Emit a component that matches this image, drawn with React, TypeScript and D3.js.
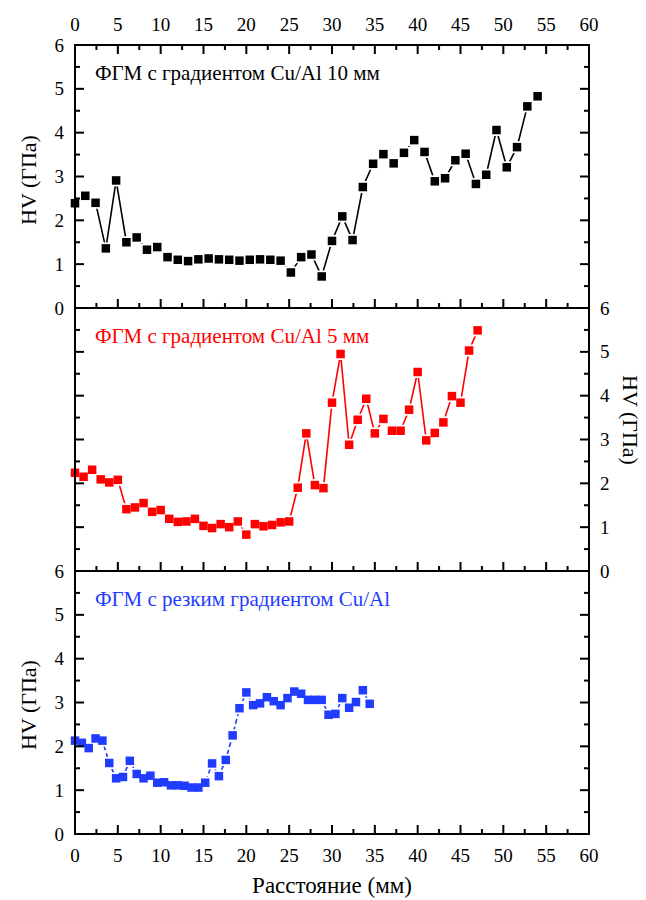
import React from "react";
import * as d3 from "d3";

const xTickLabels = [0, 5, 10, 15, 20, 25, 30, 35, 40, 45, 50, 55, 60];
const yTickLabels = [0, 1, 2, 3, 4, 5, 6];

const blackX = [0, 1.2, 2.4, 3.6, 4.8, 6, 7.2, 8.4, 9.6, 10.8, 12, 13.2, 14.4, 15.6, 16.8, 18, 19.2, 20.4, 21.6, 22.8, 24, 25.2, 26.4, 27.6, 28.8, 30, 31.2, 32.4, 33.6, 34.8, 36, 37.2, 38.4, 39.6, 40.8, 42, 43.2, 44.4, 45.6, 46.8, 48, 49.2, 50.4, 51.6, 52.8, 54];
const blackY = [2.39, 2.56, 2.40, 1.36, 2.91, 1.50, 1.61, 1.33, 1.39, 1.16, 1.10, 1.07, 1.11, 1.13, 1.11, 1.10, 1.08, 1.10, 1.11, 1.10, 1.08, 0.81, 1.16, 1.22, 0.72, 1.53, 2.09, 1.55, 2.76, 3.29, 3.51, 3.30, 3.54, 3.83, 3.56, 2.89, 2.96, 3.37, 3.52, 2.83, 3.04, 4.06, 3.21, 3.67, 4.60, 4.83];

const redX = [0, 1, 2, 3, 4, 5, 6, 7, 8, 9, 10, 11, 12, 13, 14, 15, 16, 17, 18, 19, 20, 21, 22, 23, 24, 25, 26, 27, 28, 29, 30, 31, 32, 33, 34, 35, 36, 37, 38, 39, 40, 41, 42, 43, 44, 45, 46, 47];
const redY = [2.24, 2.15, 2.31, 2.09, 2.02, 2.08, 1.41, 1.45, 1.55, 1.35, 1.39, 1.19, 1.12, 1.13, 1.19, 1.03, 0.98, 1.07, 1.00, 1.13, 0.83, 1.07, 1.02, 1.05, 1.11, 1.13, 1.90, 3.14, 1.96, 1.89, 3.84, 4.95, 2.88, 3.45, 3.93, 3.14, 3.47, 3.20, 3.20, 3.68, 4.54, 2.98, 3.15, 3.39, 3.99, 3.84, 5.03, 5.49];

const blueX = [0, 0.8, 1.6, 2.4, 3.2, 4, 4.8, 5.6, 6.4, 7.2, 8, 8.8, 9.6, 10.4, 11.2, 12, 12.8, 13.6, 14.4, 15.2, 16, 16.8, 17.6, 18.4, 19.2, 20, 20.8, 21.6, 22.4, 23.2, 24, 24.8, 25.6, 26.4, 27.2, 28, 28.8, 29.6, 30.4, 31.2, 32, 32.8, 33.6, 34.4];
const blueY = [2.13, 2.08, 1.96, 2.18, 2.13, 1.62, 1.27, 1.30, 1.67, 1.37, 1.27, 1.33, 1.17, 1.18, 1.11, 1.11, 1.10, 1.06, 1.06, 1.17, 1.61, 1.32, 1.69, 2.25, 2.87, 3.23, 2.94, 2.98, 3.12, 3.03, 2.94, 3.10, 3.25, 3.20, 3.06, 3.06, 3.06, 2.72, 2.74, 3.10, 2.88, 3.01, 3.28, 2.97];

const titles = ["ФГМ с градиентом Cu/Al 10 мм", "ФГМ с градиентом Cu/Al 5 мм", "ФГМ с резким градиентом Cu/Al"];
const yTitle = "HV (ГПа)";
const xTitle = "Расстояние (мм)";

const FONT = '"Liberation Serif", "Times New Roman", serif';
const L = 75, R = 589, PH = 263;
const tops = [45, 308, 571];
const BLUE = "#1f3cff";

const x = d3.scaleLinear().domain([0, 60]).range([L, R]);

type PanelProps = {
  top: number; xs: number[]; ys: number[]; color: string; dashed?: boolean; title: string;
  leftLabels?: boolean; rightLabels?: boolean; topTicks?: boolean; topLabels?: boolean; bottomLabels?: boolean;
  titleY?: number; rightTitleY?: number;
};

function Panel(p: PanelProps) {
  const bottom = p.top + PH;
  const y = d3.scaleLinear().domain([0, 6]).range([bottom, p.top]);
  const yMinor = d3.range(0.5, 6, 1);
  const xMinor = d3.range(2.5, 60, 5);
  const pts = p.xs.map((v, i) => [v, p.ys[i]] as [number, number]);
  const line = d3.line<[number, number]>().x(d => x(d[0])).y(d => y(d[1]));
  const MJ = 9, MN = 5, S = 8.5, H = 12;
  return (
    <g>
      <path d={line(pts) || ""} fill="none" stroke={p.color} strokeWidth={1.6} strokeDasharray={p.dashed ? "5,3" : undefined} />
      {pts.map((d, i) => (
        <rect key={"h" + i} x={x(d[0]) - H / 2} y={y(d[1]) - H / 2} width={H} height={H} fill="#fff" />
      ))}
      {pts.map((d, i) => (
        <rect key={"m" + i} x={x(d[0]) - S / 2} y={y(d[1]) - S / 2} width={S} height={S} fill={p.color} />
      ))}
      <rect x={L} y={p.top} width={R - L} height={PH} fill="none" stroke="#000" strokeWidth={2} />
      {yTickLabels.map(v => (
        <g key={"yt" + v}>
          <line x1={L} x2={L + MJ} y1={y(v)} y2={y(v)} stroke="#000" strokeWidth={2} />
          <line x1={R} x2={R - MJ} y1={y(v)} y2={y(v)} stroke="#000" strokeWidth={2} />
        </g>
      ))}
      {yMinor.map(v => (
        <g key={"ym" + v}>
          <line x1={L} x2={L + MN} y1={y(v)} y2={y(v)} stroke="#000" strokeWidth={2} />
          <line x1={R} x2={R - MN} y1={y(v)} y2={y(v)} stroke="#000" strokeWidth={2} />
        </g>
      ))}
      {xTickLabels.map(v => (
        <g key={"xt" + v}>
          <line x1={x(v)} x2={x(v)} y1={bottom} y2={bottom - MJ} stroke="#000" strokeWidth={2} />
          {p.topTicks && <line x1={x(v)} x2={x(v)} y1={p.top} y2={p.top + MJ} stroke="#000" strokeWidth={2} />}
        </g>
      ))}
      {xMinor.map(v => (
        <g key={"xm" + v}>
          <line x1={x(v)} x2={x(v)} y1={bottom} y2={bottom - MN} stroke="#000" strokeWidth={2} />
          {p.topTicks && <line x1={x(v)} x2={x(v)} y1={p.top} y2={p.top + MN} stroke="#000" strokeWidth={2} />}
        </g>
      ))}
      {p.leftLabels && yTickLabels.map(v => (
        <text key={"yl" + v} x={L - 11} y={y(v) + 6.5} textAnchor="end" fontSize={19} fontFamily={FONT}>{v}</text>
      ))}
      {p.rightLabels && yTickLabels.map(v => (
        <text key={"yr" + v} x={R + 11} y={y(v) + 6.5} textAnchor="start" fontSize={19} fontFamily={FONT}>{v}</text>
      ))}
      {p.topLabels && xTickLabels.map(v => (
        <text key={"xl" + v} x={x(v)} y={p.top - 14} textAnchor="middle" fontSize={19} fontFamily={FONT}>{v}</text>
      ))}
      {p.bottomLabels && xTickLabels.map(v => (
        <text key={"xb" + v} x={x(v)} y={bottom + 28} textAnchor="middle" fontSize={19} fontFamily={FONT}>{v}</text>
      ))}
      {p.leftLabels && (
        <text transform={`translate(36, ${p.titleY ?? (p.top + PH / 2)}) rotate(-90)`} textAnchor="middle" fontSize={22} fontFamily={FONT}>{yTitle}</text>
      )}
      {p.rightLabels && (
        <text transform={`translate(623, ${p.rightTitleY ?? (p.top + PH / 2)}) rotate(90)`} textAnchor="middle" fontSize={22} fontFamily={FONT}>{yTitle}</text>
      )}
      <text x={95} y={p.top + 35} fontSize={21} fontFamily={FONT} fill={p.color}>{p.title}</text>
    </g>
  );
}

export default function App() {
  return (
    <svg width={646} height={900} style={{ position: "absolute", left: 0, top: 0, background: "#fff" }}>
      <rect x={0} y={0} width={646} height={900} fill="#fff" />
      <Panel top={tops[0]} xs={blackX} ys={blackY} color="#000" title={titles[0]} leftLabels topTicks topLabels titleY={180} />
      <Panel top={tops[1]} xs={redX} ys={redY} color="#ff0000" title={titles[1]} rightLabels rightTitleY={420} />
      <Panel top={tops[2]} xs={blueX} ys={blueY} color={BLUE} dashed title={titles[2]} leftLabels bottomLabels titleY={705} />
      <text x={332} y={893} textAnchor="middle" fontSize={23} fontFamily={FONT}>{xTitle}</text>
    </svg>
  );
}
